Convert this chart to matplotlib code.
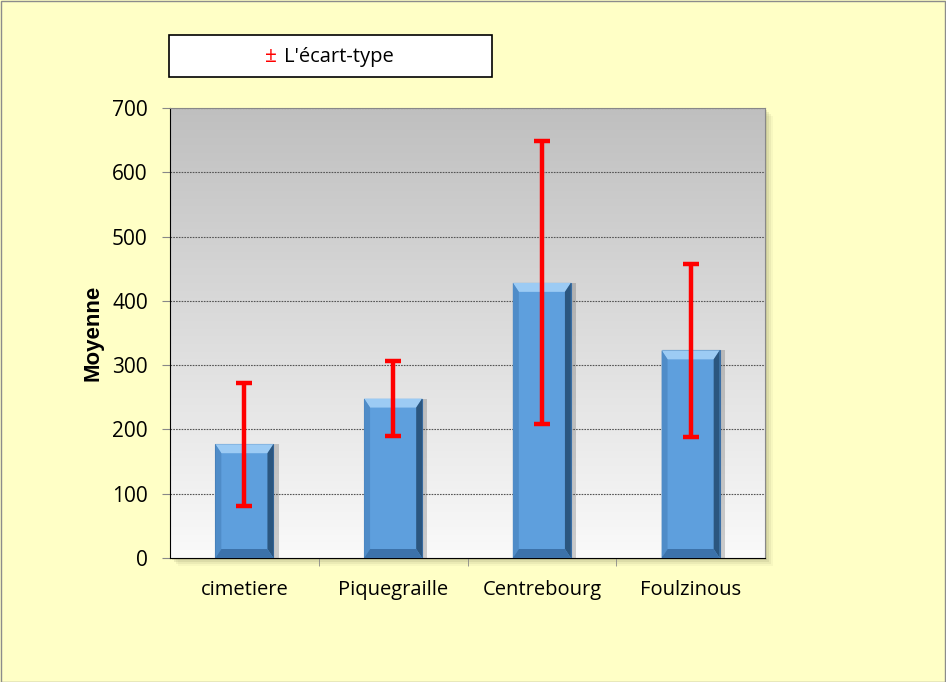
import numpy as np
import matplotlib
matplotlib.use("Agg")
import matplotlib.pyplot as plt
from matplotlib.patches import Rectangle, Polygon

categories = ["cimetiere", "Piquegraille", "Centrebourg", "Foulzinous"]
means = [177, 248, 428, 323]
sds = [96, 58, 220, 134]
yticks = [0, 100, 200, 300, 400, 500, 600, 700]

plt.rcParams['font.family'] = ['Open Sans', 'DejaVu Sans']

W, H = 946, 682
fig = plt.figure(figsize=(W / 100, H / 100), dpi=100)
fig.patch.set_facecolor('#FFFFC6')
fig.add_artist(Rectangle((0.5 / W, 0.5 / H), 1 - 1.5 / W, 1 - 1.5 / H, transform=fig.transFigure,
                         fill=False, edgecolor='#8c8c8c', lw=1))

x0, x1 = 170, 765
y0, y1 = 108, 558
ax = fig.add_axes([x0 / W, 1 - y1 / H, (x1 - x0) / W, (y1 - y0) / H])

for i, a in enumerate([0.25, 0.18, 0.12, 0.07]):
    off = 2 + i * 2
    fig.add_artist(Rectangle(((x0 + off) / W, 1 - (y1 + off) / H), (x1 - x0) / W, (y1 - y0) / H,
                             transform=fig.transFigure, facecolor='#9a9a70', edgecolor='none',
                             zorder=-1, alpha=a))

grad = np.linspace(0, 1, 256).reshape(-1, 1)
top = np.array([0.75, 0.75, 0.75])
bot = np.array([0.98, 0.98, 0.98])
img = top[None, None, :] * (1 - grad[:, :, None]) + bot[None, None, :] * grad[:, :, None]
ax.imshow(img, extent=[0, 1, 0, 1], origin='upper', transform=ax.transAxes, aspect='auto', zorder=0)

xs = np.arange(len(categories))
ax.set_xlim(-0.5, len(categories) - 0.5)
ax.set_ylim(0, 700)

for yv in yticks[1:]:
    ax.axhline(yv, color='#555555', lw=0.8, ls=(0, (1.5, 1)), zorder=1)

bw = 0.39
ax.bar(xs + 0.035, means, width=bw, bottom=0, color='#444444', alpha=0.25, zorder=2)
ax.bar(xs, means, width=bw, color='#5E9FDD', edgecolor='#3A6EA5', lw=0.8, zorder=3)
b = 0.04
bh = 14
for x, m in zip(xs, means):
    l, r = x - bw / 2, x + bw / 2
    ax.add_patch(Polygon([(l, m), (r, m), (r - b, m - bh), (l + b, m - bh)], closed=True,
                         facecolor='#9CCBF4', edgecolor='none', zorder=4))
    ax.add_patch(Polygon([(r, m), (r, 0), (r - b, bh), (r - b, m - bh)], closed=True,
                         facecolor='#2B567F', edgecolor='none', zorder=4))
    ax.add_patch(Polygon([(l, m), (l, 0), (l + b, bh), (l + b, m - bh)], closed=True,
                         facecolor='#4F8CC8', edgecolor='none', zorder=4))
    ax.add_patch(Polygon([(l, 0), (r, 0), (r - b, bh), (l + b, bh)], closed=True,
                         facecolor='#3C72AA', edgecolor='none', zorder=4))

ax.errorbar(xs, means, yerr=sds, fmt='none', ecolor='#FF0000', elinewidth=3.2,
            capsize=6, capthick=3.2, zorder=5)

ax.set_yticks(yticks)
ax.set_yticklabels([str(v) for v in yticks], fontsize=15)
ax.set_xticks(xs)
ax.set_xticklabels(categories, fontsize=14.5)
ax.tick_params(axis='x', length=0, pad=16)
ax.set_xticks(np.arange(0.5, len(categories) - 1, 1), minor=True)
ax.tick_params(axis='x', which='minor', length=6, color='#888888', direction='out')
ax.tick_params(axis='y', length=6, color='#888888', pad=10)

for s in ['top', 'right']:
    ax.spines[s].set_color('#888888')
    ax.spines[s].set_linewidth(0.8)
ax.spines['left'].set_color('black')
ax.spines['bottom'].set_color('black')

ax.set_ylabel('Moyenne', fontsize=16, fontweight='bold', labelpad=6,
              family=['Liberation Sans', 'DejaVu Sans'])

lx0, lx1, ly0, ly1 = 169, 492, 35, 77
fig.add_artist(Rectangle((lx0 / W, 1 - ly1 / H), (lx1 - lx0) / W, (ly1 - ly0) / H,
                         transform=fig.transFigure, facecolor='white', edgecolor='black', lw=1.2))
fig.text(271 / W, 1 - 57 / H, '±', color='#FF0000', fontsize=15, va='center', ha='center')
fig.text(284 / W, 1 - 57 / H, "L'écart-type", color='black', fontsize=14.5, va='center', ha='left')

fig.savefig('out.png', dpi=100, facecolor=fig.get_facecolor())
